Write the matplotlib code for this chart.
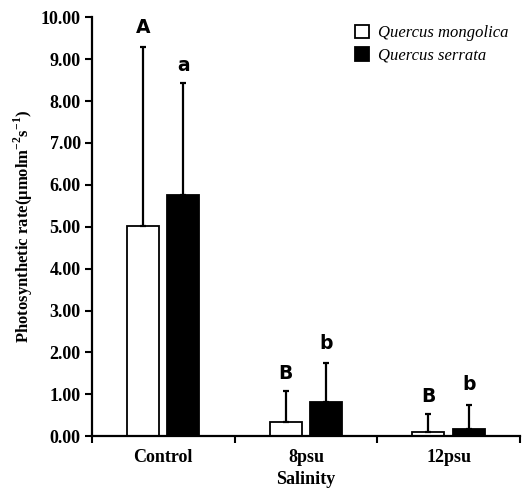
import matplotlib.pyplot as plt
import numpy as np

plt.rcParams['font.family'] = ['Liberation Serif', 'DejaVu Serif']
plt.rcParams['mathtext.fontset'] = 'custom'
plt.rcParams['mathtext.rm'] = 'Liberation Serif'
plt.rcParams['mathtext.bf'] = 'Liberation Serif:bold'

groups = ["Control", "8psu", "12psu"]
mongolica = [5.02, 0.35, 0.10]
mongolica_err = [4.28, 0.72, 0.43]
serrata = [5.77, 0.83, 0.18]
serrata_err = [2.66, 0.92, 0.57]
letters_mongolica = ["A", "B", "B"]
letters_serrata = ["a", "b", "b"]
letter_y_mongolica = [9.75, 1.50, 0.96]
letter_y_serrata = [8.85, 2.22, 1.23]

x = np.arange(len(groups))
w = 0.224
off = 0.142

fig = plt.figure(figsize=(5.22, 4.93), dpi=100)
ax = fig.add_axes([0.176, 0.115, 0.82, 0.85])

ax.bar(x - off, mongolica, w, color="white", edgecolor="black", linewidth=1.3,
       label="Quercus mongolica", zorder=2)
ax.bar(x + off, serrata, w, color="black", edgecolor="black", linewidth=1.3,
       label="Quercus serrata", zorder=2)
ax.errorbar(x - off, mongolica, yerr=[np.zeros(3), mongolica_err], fmt="none",
            ecolor="black", elinewidth=1.6, capsize=2.5, capthick=1.6, zorder=3)
ax.errorbar(x + off, serrata, yerr=[np.zeros(3), serrata_err], fmt="none",
            ecolor="black", elinewidth=1.6, capsize=2.5, capthick=1.6, zorder=3)

for i in range(len(groups)):
    ax.text(x[i] - off, letter_y_mongolica[i], letters_mongolica[i], ha="center", va="center",
            fontsize=13.5, fontweight="bold", family="DejaVu Sans")
    ax.text(x[i] + off, letter_y_serrata[i], letters_serrata[i], ha="center", va="center",
            fontsize=13.5, fontweight="bold", family="DejaVu Sans")

ax.set_xlim(-0.5, 2.5)
ax.set_ylim(0, 10)
ax.set_yticks(np.arange(0, 10.01, 1))
ax.set_yticklabels([f"{v:.2f}" for v in np.arange(0, 10.01, 1)], fontsize=13, fontweight="bold")
ax.set_xticks([-0.5, 0.5, 1.5, 2.5])
ax.set_xticklabels([])
ax.set_xticks(x, minor=True)
ax.set_xticklabels(groups, minor=True, fontsize=13, fontweight="bold")
ax.tick_params(axis="x", which="minor", length=0, pad=9)
ax.tick_params(axis="both", which="major", width=1.5, length=5, direction="out")
ax.tick_params(axis="y", which="major", pad=3)

for s in ["top", "right"]:
    ax.spines[s].set_visible(False)
for s in ["left", "bottom"]:
    ax.spines[s].set_linewidth(1.6)

ax.set_xlabel("Salinity", fontsize=13, fontweight="bold", labelpad=4)
ax.set_ylabel("Photosynthetic rate(μmolm$^{\\mathbf{-2}}$s$^{\\mathbf{-1}}$)", fontsize=12,
              fontweight="bold", labelpad=4)

leg = ax.legend(loc="upper left", bbox_to_anchor=(0.58, 1.018), frameon=False,
                prop={"family": "Liberation Serif", "style": "italic", "size": 12},
                handlelength=0.85, handleheight=0.85, handletextpad=0.5, labelspacing=0.38)

fig.savefig("out.png", dpi=100)
